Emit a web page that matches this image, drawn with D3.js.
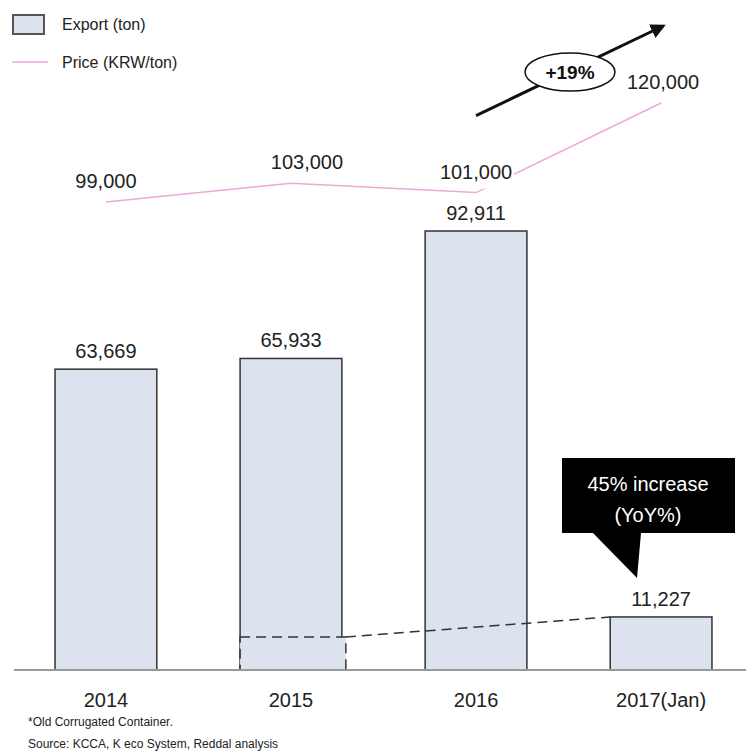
<!DOCTYPE html>
<html>
<head>
<meta charset="utf-8">
<script src="https://cdn.jsdelivr.net/npm/d3@7"></script>
<style>
  body { margin: 0; background: #fff; }
  text { font-family: "Liberation Sans", Arial, sans-serif; }
</style>
</head>
<body>
<svg id="chart" width="746" height="751"></svg>
<script>
const years = ['2014', '2015', '2016', '2017(Jan)']
const exportTon = [63669, 65933, 92911, 11227]
const price = [99000, 103000, 101000, 120000]
const priceLabels = ['99,000', '103,000', '101,000', '120,000']
const exportLabels = ['63,669', '65,933', '92,911', '11,227']
const jan2016 = 7000

const svg = d3.select('#chart')
const width = 746

const x = d3.scaleBand()
  .domain(years)
  .range([13.4, 753.6])
  .paddingInner(0.45)
  .paddingOuter(0.225)

const y = d3.scaleLinear()
  .domain([0, 141800])
  .range([670, 0])

const yPrice = d3.scaleLinear()
  .domain([99000, 120000])
  .range([202, 103])

const cx = d => x(d) + x.bandwidth() / 2

// bars
svg.append('g')
  .selectAll('rect')
  .data(years)
  .join('rect')
  .attr('x', d => x(d))
  .attr('y', (d, i) => y(exportTon[i]))
  .attr('width', x.bandwidth())
  .attr('height', (d, i) => y(0) - y(exportTon[i]))
  .attr('fill', '#dde3ee')
  .attr('stroke', '#333')
  .attr('stroke-width', 1.5)

// january 2016 dashed box inside 2015 slot
const jx = x('2015')
svg.append('rect')
  .attr('x', jx)
  .attr('y', y(jan2016))
  .attr('width', x.bandwidth() + 4)
  .attr('height', y(0) - y(jan2016))
  .attr('fill', '#dde3ee')
  .attr('stroke', '#333')
  .attr('stroke-width', 1.5)
  .attr('stroke-dasharray', '10,6')

svg.append('path')
  .attr('d', d3.line()([
    [jx + x.bandwidth() + 4, y(jan2016)],
    [x('2017(Jan)'), y(exportTon[3])]
  ]))
  .attr('stroke', '#333')
  .attr('stroke-width', 1.5)
  .attr('stroke-dasharray', '10,6')
  .attr('fill', 'none')

// baseline
svg.append('line')
  .attr('x1', 14).attr('x2', width)
  .attr('y1', y(0)).attr('y2', y(0))
  .attr('stroke', '#999')
  .attr('stroke-width', 2)

// year labels
svg.append('g')
  .selectAll('text')
  .data(years)
  .join('text')
  .attr('x', d => cx(d))
  .attr('y', 707)
  .attr('text-anchor', 'middle')
  .attr('font-size', 20)
  .attr('fill', '#222')
  .text(d => d)

// export labels
svg.append('g')
  .selectAll('text')
  .data(years)
  .join('text')
  .attr('x', d => cx(d))
  .attr('y', (d, i) => y(exportTon[i]) - 11)
  .attr('text-anchor', 'middle')
  .attr('font-size', 20)
  .attr('fill', '#222')
  .text((d, i) => exportLabels[i])

// price line
const priceLine = d3.line()
  .x(d => cx(d))
  .y((d, i) => yPrice(price[i]))

svg.append('path')
  .attr('d', priceLine(years))
  .attr('fill', 'none')
  .attr('stroke', '#f0a8d8')
  .attr('stroke-width', 1.5)

const pxOff = [0, 16, 0, 2]
const pLabels = svg.append('g')
years.forEach((d, i) => {
  const t = pLabels.append('text')
    .attr('x', cx(d) + pxOff[i])
    .attr('y', yPrice(price[i]) - 14)
    .attr('text-anchor', 'middle')
    .attr('font-size', 20)
    .attr('fill', '#222')
    .text(priceLabels[i])
  if (i === 2) {
    const bb = t.node().getBBox()
    pLabels.insert('rect', 'text')
      .attr('x', bb.x - 2).attr('y', bb.y)
      .attr('width', bb.width + 4).attr('height', bb.height + 6)
      .attr('fill', '#fff')
  }
})

// +19% arrow
svg.append('defs').append('marker')
  .attr('id', 'head')
  .attr('viewBox', '0 0 10 10')
  .attr('refX', 8).attr('refY', 5)
  .attr('markerWidth', 5).attr('markerHeight', 5)
  .attr('orient', 'auto')
  .append('path')
  .attr('d', 'M0,0L10,5L0,10Z')
  .attr('fill', '#111')

const a0 = [cx('2016'), yPrice(price[2]) - 77]
const a1 = [cx('2017(Jan)') + 2, 26]
svg.append('path')
  .attr('d', d3.line()([a0, a1]))
  .attr('stroke', '#111')
  .attr('stroke-width', 3)
  .attr('marker-end', 'url(#head)')

const ec = [570, 72]
svg.append('ellipse')
  .attr('cx', ec[0]).attr('cy', ec[1])
  .attr('rx', 45).attr('ry', 19)
  .attr('fill', '#fff')
  .attr('stroke', '#111')
  .attr('stroke-width', 1.5)
svg.append('text')
  .attr('x', ec[0]).attr('y', ec[1] + 7)
  .attr('text-anchor', 'middle')
  .attr('font-size', 19)
  .attr('font-weight', 'bold')
  .attr('fill', '#111')
  .text('+19%')

// callout
const callout = svg.append('g')
callout.append('path')
  .attr('d', 'M562,458H735V533H641L637,578L593,533H562Z')
  .attr('fill', '#000')
callout.append('text')
  .attr('x', 648).attr('y', 491)
  .attr('text-anchor', 'middle')
  .attr('font-size', 20)
  .attr('fill', '#fff')
  .text('45% increase')
callout.append('text')
  .attr('x', 648).attr('y', 522)
  .attr('text-anchor', 'middle')
  .attr('font-size', 20)
  .attr('fill', '#fff')
  .text('(YoY%)')

// legend
const legend = svg.append('g')
legend.append('rect')
  .attr('x', 13).attr('y', 15)
  .attr('width', 31).attr('height', 19)
  .attr('fill', '#dde3ee')
  .attr('stroke', '#555')
  .attr('stroke-width', 2)
legend.append('text')
  .attr('x', 62).attr('y', 30)
  .attr('font-size', 16)
  .attr('fill', '#222')
  .text('Export (ton)')
legend.append('line')
  .attr('x1', 12).attr('x2', 48)
  .attr('y1', 62).attr('y2', 62)
  .attr('stroke', '#f0a8d8')
  .attr('stroke-width', 1.5)
legend.append('text')
  .attr('x', 62).attr('y', 68)
  .attr('font-size', 16)
  .attr('fill', '#222')
  .text('Price (KRW/ton)')

// footnotes
svg.append('text')
  .attr('x', 28).attr('y', 726)
  .attr('font-size', 12)
  .attr('fill', '#222')
  .text('*Old Corrugated Container.')
svg.append('text')
  .attr('x', 28).attr('y', 748)
  .attr('font-size', 12)
  .attr('fill', '#222')
  .text('Source: KCCA, K eco System, Reddal analysis')
</script>
</body>
</html>
